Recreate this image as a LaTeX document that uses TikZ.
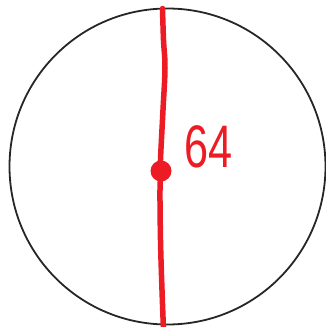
\documentclass[tikz,border=0pt]{standalone}
\usepackage{fontspec}
\newfontfamily\handfont{Liberation Sans}
\definecolor{penred}{HTML}{ED1C24}
\begin{document}
\begin{tikzpicture}[x=1pt,y=-1pt,
  rim/.style={draw=black!85,line width=1.8pt},
  diam/.style={draw=penred,line width=5.5pt,line cap=round,line join=round},
  lbl/.style={text=penred,inner sep=0pt,font=\handfont\fontsize{60}{60}\selectfont,xscale=0.72}]
\useasboundingbox (0,0) rectangle (326,327);
\node[circle,rim,minimum size=316pt,inner sep=0pt] (c) at (167.5,166.5) {};
\node[circle,fill=penred,minimum size=21pt,inner sep=0pt] (ctr) at (161,171) {};
\draw[diam] plot[smooth,tension=0.6] coordinates {(162.5,8.5) (163.5,40) (165,68) (163,110) (160.5,160) (161,171) (160,190) (160.5,240) (162,290) (163.5,330)};
\node[lbl,anchor=base] (val) at (209,167) {64};
\end{tikzpicture}
\end{document}
